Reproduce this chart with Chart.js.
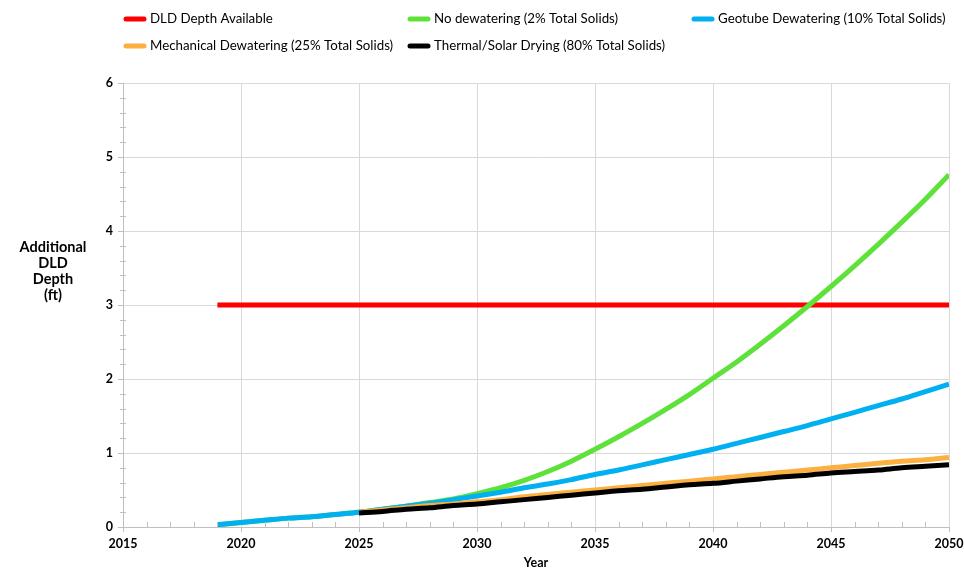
<!DOCTYPE html>
<html>
<head>
<meta charset="utf-8">
<script src="https://cdn.jsdelivr.net/npm/chart.js@4.4.0/dist/chart.umd.min.js"></script>
<style>
html, body { margin: 0; padding: 0; background: #fff; overflow: hidden; }
#wrap { width: 964px; height: 570px; }
</style>
</head>
<body>
<div id="wrap"><canvas id="chart"></canvas></div>
<script>
// series names (legend order)
var seriesNames = [
    "DLD Depth Available",
    "No dewatering (2% Total Solids)",
    "Geotube Dewatering (10% Total Solids)",
    "Mechanical Dewatering (25% Total Solids)",
    "Thermal/Solar Drying (80% Total Solids)"
];

var yTitleLines = ["Additional", "DLD", "Depth", "(ft)"];

var availableYears = [2019, 2050];
var depthAvailable = [3, 3];

var yearsAll = [2019, 2020, 2021, 2022, 2023, 2024, 2025, 2026, 2027, 2028,
    2029, 2030, 2031, 2032, 2033, 2034, 2035, 2036, 2037, 2038,
    2039, 2040, 2041, 2042, 2043, 2044, 2045, 2046, 2047, 2048,
    2049, 2050];

var noDewatering = [0.03, 0.06, 0.09, 0.12, 0.14, 0.17, 0.20, 0.24, 0.28, 0.33,
    0.38, 0.45, 0.53, 0.63, 0.75, 0.89, 1.05, 1.22, 1.40, 1.59,
    1.79, 2.01, 2.23, 2.47, 2.72, 2.98, 3.25, 3.53, 3.82, 4.12,
    4.43, 4.76];

var geotube = [0.03, 0.06, 0.09, 0.12, 0.14, 0.17, 0.20, 0.24, 0.28, 0.32,
    0.37, 0.42, 0.47, 0.53, 0.58, 0.64, 0.71, 0.77, 0.84, 0.91,
    0.98, 1.05, 1.13, 1.21, 1.29, 1.37, 1.46, 1.55, 1.64, 1.73,
    1.83, 1.93];

var yearsLater = [2025, 2026, 2027, 2028, 2029, 2030, 2031, 2032, 2033, 2034,
    2035, 2036, 2037, 2038, 2039, 2040, 2041, 2042, 2043, 2044,
    2045, 2046, 2047, 2048, 2049, 2050];

var mechanical = [0.20, 0.23, 0.26, 0.29, 0.31, 0.34, 0.37, 0.41, 0.44, 0.47,
    0.50, 0.53, 0.56, 0.59, 0.62, 0.65, 0.68, 0.71, 0.74, 0.77,
    0.80, 0.83, 0.86, 0.89, 0.91, 0.94];

var thermal = [0.19, 0.21, 0.24, 0.26, 0.29, 0.31, 0.34, 0.37, 0.40, 0.43,
    0.46, 0.49, 0.51, 0.54, 0.57, 0.59, 0.62, 0.65, 0.68, 0.70,
    0.73, 0.75, 0.77, 0.80, 0.82, 0.84];

var FONT = "Lato, 'Open Sans', sans-serif";

function toPoints(xs, ys){
    var pts = [];
    for(var i = 0; i < xs.length; i++){
        pts.push({x: xs[i], y: ys[i]})
    }
    return pts
}

function makeSet(i, xs, ys, color, order){
    return {
        label: seriesNames[i],
        data: toPoints(xs, ys),
        borderColor: color,
        backgroundColor: color,
        borderWidth: 5,
        pointRadius: 0,
        fill: false,
        cubicInterpolationMode: 'monotone',
        order: order
    }
}

//plugin per tick minori, titolo asse y e legenda a griglia
var overlay = {
    id: 'overlay',
    afterDraw: function(chart){
        var ctx = chart.ctx;
        var xs = chart.scales.x, ys = chart.scales.y, area = chart.chartArea;
        ctx.save();

        ctx.strokeStyle = '#bfbfbf';
        ctx.lineWidth = 1;
        ctx.beginPath();
        for(var yr = 2016; yr < 2050; yr++){
            if(yr % 5 == 0) continue;
            var px = Math.round(xs.getPixelForValue(yr)) + 0.5;
            ctx.moveTo(px, area.bottom - 5);
            ctx.lineTo(px, area.bottom);
        }
        for(var k = 1; k < 30; k++){
            if(k % 5 == 0) continue;
            var py = Math.round(ys.getPixelForValue(k / 5)) + 0.5;
            ctx.moveTo(area.left - 3, py);
            ctx.lineTo(area.left + 3, py);
        }
        ctx.stroke();

        // titolo asse y orizzontale
        ctx.fillStyle = '#000';
        ctx.font = "bold 14.5px " + FONT;
        ctx.textAlign = 'center';
        ctx.textBaseline = 'middle';
        yTitleLines.forEach(function(line, i){
            ctx.fillText(line, 53, 247 + i * 16);
        });

        // legenda
        ctx.font = "13.3px " + FONT;
        ctx.textAlign = 'left';
        ctx.lineCap = 'round';
        chart.data.datasets.forEach(function(ds, i){
            var col = i % 3, row = Math.floor(i / 3);
            var lx = 126 + col * 284, ly = 19 + row * 27;
            ctx.strokeStyle = ds.borderColor;
            ctx.lineWidth = 5;
            ctx.beginPath();
            ctx.moveTo(lx, ly);
            ctx.lineTo(lx + 18, ly);
            ctx.stroke();
            ctx.fillText(ds.label, lx + 24, ly);
        });
        ctx.restore();
    }
};

var tickFont = {family: FONT, size: 12.5, weight: 'bold'};

var ctx1 = document.getElementById("chart");

var chart = new Chart(ctx1, {
    type: 'line',
    data: {
        datasets: [
            makeSet(0, availableYears, depthAvailable, '#ff0000', 5),
            makeSet(1, yearsAll, noDewatering, '#5ee23a', 4),
            makeSet(2, yearsAll, geotube, '#00b0f0', 3),
            makeSet(3, yearsLater, mechanical, '#fbb040', 2),
            makeSet(4, yearsLater, thermal, '#000000', 1)
        ]
    },
    options: {
        responsive: true,
        maintainAspectRatio: false,
        animation: false,
        layout: { padding: { top: 83, left: 0, right: 15, bottom: 0 } },
        plugins: {
            legend: { display: false },
            tooltip: { enabled: false }
        },
        scales: {
            x: {
                type: 'linear',
                min: 2015,
                max: 2050,
                ticks: { stepSize: 5, color: '#000', font: tickFont, padding: 4, maxRotation: 0,
                    callback: function(v){ return String(v) } },
                grid: { color: '#d9d9d9', tickLength: 5, tickColor: '#bfbfbf' },
                border: { color: '#bfbfbf' },
                title: { display: true, text: 'Year', color: '#000', font: tickFont,
                    padding: { top: 0, bottom: 0 } },
                afterFit: function(s){ s.paddingRight = 0; s.paddingLeft = 0; }
            },
            y: {
                min: 0,
                max: 6,
                ticks: { stepSize: 1, color: '#000', font: tickFont, padding: 5 },
                grid: { color: '#d9d9d9', tickLength: 5, tickColor: '#bfbfbf' },
                border: { color: '#bfbfbf' },
                afterFit: function(s){ s.width = 123; }
            }
        }
    },
    plugins: [overlay]
});
</script>
</body>
</html>
